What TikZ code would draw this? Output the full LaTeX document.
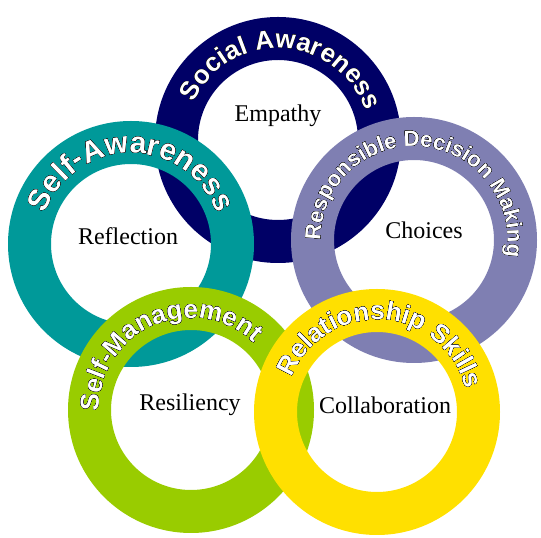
\documentclass[tikz,border=0pt]{standalone}
\usepackage{fontspec}
\setmainfont{Liberation Serif}
\newfontfamily\ringfont{Liberation Sans}
\usepackage{tikz}
\usetikzlibrary{math}
\usetikzlibrary{calc}
\usetikzlibrary{decorations.text}

\definecolor{socialblue}{HTML}{000066}
\definecolor{selfteal}{HTML}{009999}
\definecolor{decisionlilac}{HTML}{7F7FB2}
\definecolor{managegreen}{HTML}{99CC00}
\definecolor{relateyellow}{HTML}{FFE000}

% #1 centre, #2 baseline radius, #3 middle angle, #4 font size, #5 text
\newcommand{\ringtext}[5]{%
  \foreach \ang in {0,22.5,...,337.5}
    \path[shift={(\ang:1.5pt)}, decorate,
      decoration={text along path, text align=center, text color=black,
        text={|\ringfont\bfseries\fontsize{#4}{#4}\selectfont|#5}}]
      ($(#1)+(#3+120:#2)$) arc[start angle=#3+120, end angle=#3-120, radius=#2];
  \path[decorate,
    decoration={text along path, text align=center, text color=white,
      text={|\ringfont\bfseries\fontsize{#4}{#4}\selectfont|#5}}]
    ($(#1)+(#3+120:#2)$) arc[start angle=#3+120, end angle=#3-120, radius=#2];
}

\begin{document}
\begin{tikzpicture}[x=1pt,y=1pt,
  ring/.style={even odd rule},
  inner label/.style={font=\fontsize{24}{24}\selectfont, inner sep=0pt}]

  \tikzmath{
    \Rout = 123; % outer radius of a ring
    \Rin  = 80;  % radius of the hole
  }

  \useasboundingbox (0,0) rectangle (541,538);

  % centres of the rings
  \coordinate (social)   at (278,398);
  \coordinate (self)     at (131,294);
  \coordinate (decision) at (414,298);
  \coordinate (manage)   at (191,128);
  \coordinate (relate)   at (377,126);

  % rings, back to front
  \fill[ring, socialblue]    (social)   circle[radius=\Rout pt] circle[radius=\Rin pt];
  \ringtext{social}{92pt}{87}{26}{Social Awareness}

  \fill[ring, selfteal]      (self)     circle[radius=\Rout pt] circle[radius=\Rin pt];
  \ringtext{self}{91pt}{90}{30}{Self-Awareness}

  \fill[ring, decisionlilac] (decision) circle[radius=\Rout pt] circle[radius=\Rin pt];
  \ringtext{decision}{93.5pt}{85}{22}{Responsible Decision Making}

  \fill[ring, managegreen]   (manage)   circle[radius=\Rout pt] circle[radius=\Rin pt];
  \ringtext{manage}{92pt}{114}{26}{Self-Management}

  \fill[ring, relateyellow]  (relate)   circle[radius=\Rout pt] circle[radius=\Rin pt];
  \ringtext{relate}{92pt}{86}{26}{Relationship Skills}

  % words in the holes
  \node[inner label] (empathy)       at (278,422) {Empathy};
  \node[inner label] (reflection)    at (128,302) {Reflection};
  \node[inner label] (choices)       at (424,308) {Choices};
  \node[inner label] (resiliency)    at (190,133) {Resiliency};
  \node[inner label] (collaboration) at (385,133) {Collaboration};

\end{tikzpicture}
\end{document}
